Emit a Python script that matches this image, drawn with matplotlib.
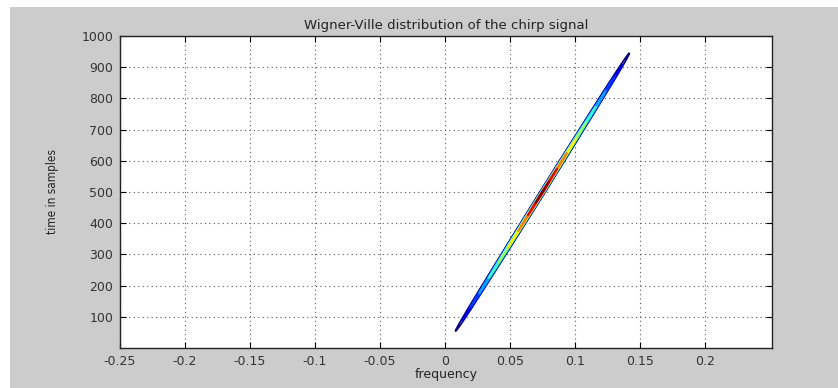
import numpy as np
import matplotlib.pyplot as plt
from matplotlib.patches import Rectangle

# chirp signal: linear sweep in normalised frequency
n_samples = 1000
f_start = 0.0
f_end = 0.15
ridge_width = 0.0014    # spread of the ridge across frequency
contour_levels = [0.11, 0.18, 0.26, 0.35, 0.45, 0.55, 0.65, 0.75, 0.85, 0.93]

x_ticks = [-0.25, -0.2, -0.15, -0.1, -0.05, 0, 0.05, 0.1, 0.15, 0.2]
x_ticklabels = ['-0.25', '-0.2', '-0.15', '-0.1', '-0.05', '0', '0.05', '0.1', '0.15', '0.2']
y_ticks = [100, 200, 300, 400, 500, 600, 700, 800, 900, 1000]

# Wigner-Ville energy of the chirp: concentrated on the instantaneous
# frequency, amplitude grows with the lag window available at each instant
t = np.arange(n_samples)
freqs = np.arange(-0.01, 0.17, 0.0001)
f_inst = f_start + (f_end - f_start) * t / n_samples
lag = np.minimum(t, n_samples - 1 - t) + 1.0
amp = lag / lag.max()
T, F = np.meshgrid(t, freqs, indexing='ij')
W = amp[:, None] * np.exp(-((F - f_inst[:, None]) / ridge_width) ** 2)

fig = plt.figure(figsize=(8.38, 3.88), dpi=100, facecolor='white')
fig.patches.append(Rectangle((10 / 838, 0), 1, 1 - 7 / 388, transform=fig.transFigure,
                             facecolor='#cccccc', edgecolor='none', zorder=-1))
ax = fig.add_axes([120 / 838, 1 - 348 / 388, 652 / 838, 312 / 388])
ax.set_facecolor('white')

ax.contour(F, T, W, levels=contour_levels, cmap='jet', linewidths=1.2)

ax.set_xlim(-0.25, 0.2515)
ax.set_ylim(0, 1000)
ax.set_xticks(x_ticks)
ax.set_xticklabels(x_ticklabels)
ax.set_yticks(y_ticks)
ax.grid(True, linestyle=(0, (1, 3)), color='#555555', linewidth=0.8)
ax.tick_params(direction='in', length=4, width=0.8, top=True, right=True,
               labelsize=9, labelcolor='#333333', pad=5)
for s in ax.spines.values():
    s.set_color('#222222')
    s.set_linewidth(1.0)

ax.set_title('Wigner-Ville distribution of the chirp signal', fontsize=9.5,
             color='#222222', pad=5)
ax.set_xlabel('frequency', fontsize=9, color='#222222', labelpad=0)
ax.set_ylabel('time in samples', fontsize=8.5, color='#222222', labelpad=16,
              fontstretch='condensed')

fig.savefig('out.png', dpi=100)
